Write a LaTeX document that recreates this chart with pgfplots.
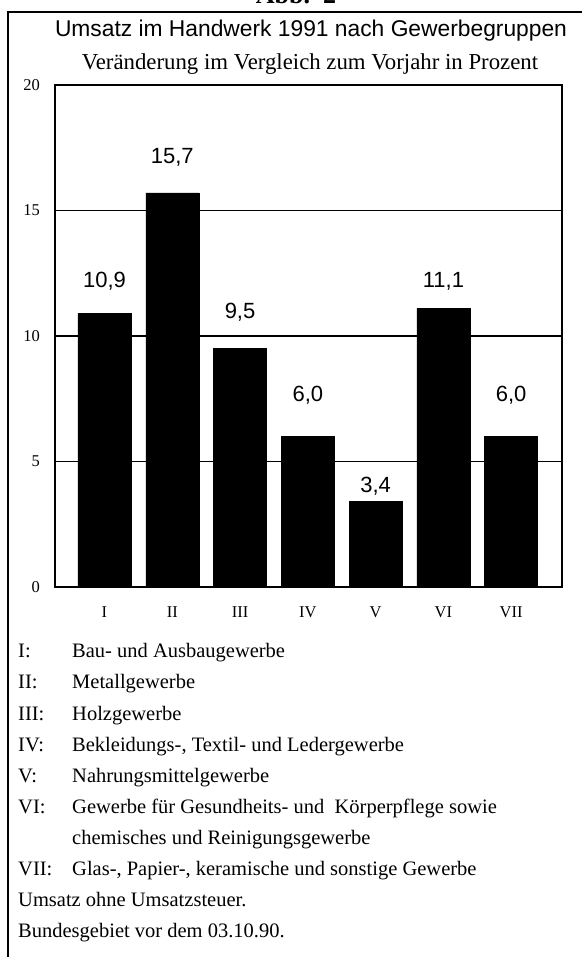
\documentclass[border=0pt]{standalone}
\usepackage{pgfplots}
\pgfplotsset{compat=1.18}
\usepackage{fontspec}
\setmainfont{Liberation Serif}
\newfontfamily\arial{Liberation Sans}
\begin{document}
\begin{tikzpicture}[x=1pt,y=1pt]
\useasboundingbox (-55,-370) rectangle (526,587);
% frame and clipped header
\node[anchor=base, inner sep=0pt, font=\fontsize{26}{30}\selectfont\bfseries] at (241,583) {Abb.\ \ 2};
\draw[line width=2pt] (-48,575) -- (527,575);
\draw[line width=2pt] (-47,576) -- (-47,-372);
% titles
\node[anchor=base, inner sep=0pt, font=\arial\fontsize{22.8}{27}\selectfont] at (256,550) {Umsatz im Handwerk 1991 nach Gewerbegruppen};
\node[anchor=base, inner sep=0pt, font=\fontsize{22.8}{27}\selectfont] at (255,517) {Veränderung im Vergleich zum Vorjahr in Prozent};
\begin{axis}[
  at={(0,0)}, anchor=south west,
  scale only axis, width=507pt, height=502pt,
  xmin=-0.73, xmax=6.75, ymin=0, ymax=20,
  xtick={0,1,2,3,4,5,6},
  xticklabels={I,II,III,IV,V,VI,VII},
  ytick={0,5,10,15,20},
  major tick length=0pt,
  ymajorgrids, grid style={black, line width=1.2pt},
  axis line style={line width=1.5pt},
  xticklabel style={inner sep=0pt, anchor=north, yshift=-19pt, font=\fontsize{16.5}{18}\selectfont},
  yticklabel style={inner sep=0pt, anchor=east, xshift=-15pt, font=\fontsize{16.5}{18}\selectfont},
  /pgf/number format/assume math mode=true,
  clip=false,
]
\addplot[ybar, bar width=53pt, fill=black, draw=black] coordinates {
  (0,10.9) (1,15.7) (2,9.5) (3,6.0) (4,3.4) (5,11.1) (6,6.0)
};
\addplot[draw=none, mark=none, nodes near coords, point meta=explicit symbolic,
  every node near coord/.append style={anchor=center, inner sep=0pt, font=\arial\fontsize{22}{26}\selectfont}]
  coordinates {
  (0,12.19) [10,9]
  (1,17.13) [15,7]
  (2,10.96) [9,5]
  (3,7.65) [6,0]
  (4,4.02) [3,4]
  (5,12.19) [11,1]
  (6,7.65) [6,0]
};
\end{axis}
% legend text
\begin{scope}[every node/.style={anchor=base west, inner sep=0pt, font=\fontsize{20.5}{24}\selectfont}]
\node at (-37,-71) {I:};   \node at (17,-71) {Bau- und Ausbaugewerbe};
\node at (-37,-102) {II:};  \node at (17,-102) {Metallgewerbe};
\node at (-37,-133) {III:}; \node at (17,-133) {Holzgewerbe};
\node at (-37,-164) {IV:};  \node at (17,-164) {Bekleidungs-, Textil- und Ledergewerbe};
\node at (-37,-195) {V:};   \node at (17,-195) {Nahrungsmittelgewerbe};
\node at (-37,-226) {VI:};  \node at (17,-226) {Gewerbe für Gesundheits- und\ \ Körperpflege sowie};
\node at (17,-257) {chemisches und Reinigungsgewerbe};
\node at (-37,-288) {VII:}; \node at (17,-288) {Glas-, Papier-, keramische und sonstige Gewerbe};
\node at (-37,-319) {Umsatz ohne Umsatzsteuer.};
\node at (-37,-350) {Bundesgebiet vor dem 03.10.90.};
\end{scope}
\end{tikzpicture}
\end{document}
